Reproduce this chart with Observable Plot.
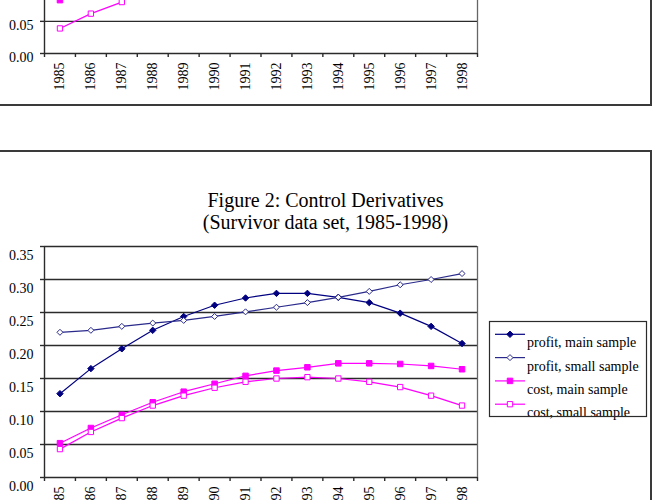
<!DOCTYPE html>
<html>
<head>
<meta charset="utf-8">
<script src="https://cdn.jsdelivr.net/npm/d3@7"></script>
<script src="https://cdn.jsdelivr.net/npm/@observablehq/plot@0.6"></script>
<style>
  html, body { margin: 0; padding: 0; background: #fff; width: 652px; height: 500px; overflow: hidden; }
  body { position: relative; font-family: "Liberation Serif", "Times New Roman", serif; color: #000; }
  .frame { position: absolute; border: 2px solid #3a3a3a; box-sizing: border-box; }
  #frame1 { left: -4px; top: -200px; width: 656px; height: 306px; }
  #frame2 { left: -4px; top: 150px; width: 656px; height: 500px; }
  .chart { position: absolute; left: 0; line-height: 0; }
  .chart svg { display: block; }
  #chart1 { top: -182px; }
  #chart2 { top: 236px; }
  #title { position: absolute; left: 0; top: 189px; width: 651px; text-align: center; font-size: 20px; line-height: 22px; }
  #legend { position: absolute; left: 486px; top: 318px; }
</style>
</head>
<body>
<div class="frame" id="frame1"></div>
<div class="frame" id="frame2"></div>
<div class="chart" id="chart1"></div>
<div id="title">Figure 2: Control Derivatives<br>(Survivor data set, 1985-1998)</div>
<div class="chart" id="chart2"></div>
<div id="legend"></div>
<script>
// Years on the horizontal axis
const years = [1985, 1986, 1987, 1988, 1989, 1990, 1991, 1992, 1993, 1994, 1995, 1996, 1997, 1998];
// Vertical axis: grid lines and tick labels
const yTicks = [0, 0.05, 0.10, 0.15, 0.20, 0.25, 0.30, 0.35];
// Figure 1 shows only its lowest two labels on this page
const fig1YLabels = [0, 0.05];

// Figure 1 (lower part): cost series
const fig1CostMainYears = [1985];
const fig1CostMain = [0.083];
const fig1CostSmallYears = [1985, 1986, 1987];
const fig1CostSmall = [0.039, 0.062, 0.080];

// Figure 2: control derivatives, survivor data set
const profitMain  = [0.127, 0.165, 0.195, 0.223, 0.244, 0.261, 0.272, 0.279, 0.279, 0.273, 0.265, 0.249, 0.229, 0.203];
const profitSmall = [0.220, 0.223, 0.229, 0.234, 0.238, 0.244, 0.251, 0.258, 0.265, 0.273, 0.282, 0.292, 0.300, 0.309];
const costMain    = [0.052, 0.075, 0.095, 0.114, 0.130, 0.142, 0.154, 0.162, 0.167, 0.173, 0.173, 0.172, 0.169, 0.164];
const costSmall   = [0.043, 0.069, 0.090, 0.109, 0.124, 0.136, 0.145, 0.150, 0.152, 0.150, 0.145, 0.137, 0.124, 0.109];

const seriesNames = ["profit, main sample", "profit, small sample", "cost, main sample", "cost, small sample"];

const NAVY = "#000080", NAVY2 = "#2a2a8c", MAGENTA = "#ff00ff";
const seriesStyle = [
  {stroke: NAVY, fill: NAVY, symbol: "diamond2", r: 2.9},
  {stroke: NAVY2, fill: "#fff", symbol: "diamond2", r: 2.7},
  {stroke: MAGENTA, fill: MAGENTA, symbol: "square", r: 3.1},
  {stroke: MAGENTA, fill: "#fff", symbol: "square", r: 3.0}
];

const rows = (xs, vs) => xs.map((x, i) => ({year: x, value: vs[i]}));
const boundaries = [years[0] - 0.5, ...years.map(y => y + 0.5)];
const xDomain = [boundaries[0], boundaries[boundaries.length - 1]];
const FONT = "'Liberation Serif', 'Times New Roman', serif";

function seriesMarks(data, st) {
  return [
    Plot.line(data, {x: "year", y: "value", stroke: st.stroke, strokeWidth: 1.2}),
    Plot.dot(data, {x: "year", y: "value", symbol: st.symbol, r: st.r, fill: st.fill, stroke: st.stroke, strokeWidth: 1})
  ];
}

// Grid, plot-area border and both axes
function frameMarks(yLabels, labelDy) {
  return [
    Plot.ruleY(yTicks, {x1: xDomain[0], x2: xDomain[1], stroke: "#2b2b2b", strokeWidth: 1.4}),
    Plot.ruleX([xDomain[1]], {y1: 0, y2: 0.35, stroke: "#666", strokeWidth: 1.3}),
    Plot.ruleX([xDomain[0]], {y1: 0, y2: 0.35, stroke: "#2b2b2b", strokeWidth: 1.4}),
    Plot.axisY(yTicks, {tickSize: 4, tickFormat: () => "", label: null, stroke: "#2b2b2b", strokeWidth: 1.4}),
    Plot.axisY(yLabels, {tickSize: 0, tickPadding: 11, tickFormat: d => d.toFixed(2), fontSize: 14, dy: labelDy, label: null}),
    Plot.axisX(boundaries, {tickSize: 4, tickFormat: () => "", label: null, stroke: "#2b2b2b", strokeWidth: 1.4}),
    Plot.axisX(years, {tickSize: 0, tickPadding: 9, tickRotate: -90, tickFormat: d => String(d), fontSize: 14, label: null})
  ];
}

function makeChart(height, marginBottom, yLabels, labelDy, marks) {
  return Plot.plot({
    width: 652,
    height,
    marginTop: 10,
    marginBottom,
    marginLeft: 44,
    marginRight: 175,
    x: {domain: xDomain},
    y: {domain: [0, 0.35]},
    style: {fontFamily: FONT, fontSize: "14px", background: "transparent", overflow: "visible", color: "#000"},
    marks: [...frameMarks(yLabels, labelDy), ...marks]
  });
}

// Figure 1 (only its bottom is on this page)
document.getElementById("chart1").appendChild(makeChart(280, 45, fig1YLabels, 4, [
  ...seriesMarks(rows(fig1CostMainYears, fig1CostMain), seriesStyle[2]),
  ...seriesMarks(rows(fig1CostSmallYears, fig1CostSmall), seriesStyle[3])
]));

// Figure 2
const fig2Series = [profitMain, profitSmall, costMain, costSmall];
document.getElementById("chart2").appendChild(makeChart(281, 40, yTicks, 9,
  fig2Series.flatMap((vs, i) => seriesMarks(rows(years, vs), seriesStyle[i]))
));

// Legend
const legendSvg = d3.create("svg").attr("width", 166).attr("height", 110).style("overflow", "visible");
const symbolPath = (st) => d3.symbol(st.symbol === "square" ? d3.symbolSquare : d3.symbolDiamond2, st.r * st.r * Math.PI)();
seriesNames.forEach((name, i) => {
  const st = seriesStyle[i];
  const y = 16.3 + i * 23.3;
  const g = legendSvg.append("g");
  g.append("line").attr("x1", 9).attr("x2", 39).attr("y1", y).attr("y2", y).attr("stroke", st.stroke).attr("stroke-width", 1.2);
  g.append("path").attr("d", symbolPath(st)).attr("transform", `translate(24,${y})`)
    .attr("fill", st.fill).attr("stroke", st.stroke).attr("stroke-width", 1);
  g.append("text").attr("x", 41).attr("y", y + 13).attr("font-size", 14)
    .attr("font-family", FONT).text(name);
});
legendSvg.append("rect").attr("x", 3.5).attr("y", 3.5).attr("width", 157).attr("height", 95)
  .attr("fill", "none").attr("stroke", "#2b2b2b").attr("stroke-width", 1.2);
document.getElementById("legend").appendChild(legendSvg.node());
</script>
</body>
</html>
